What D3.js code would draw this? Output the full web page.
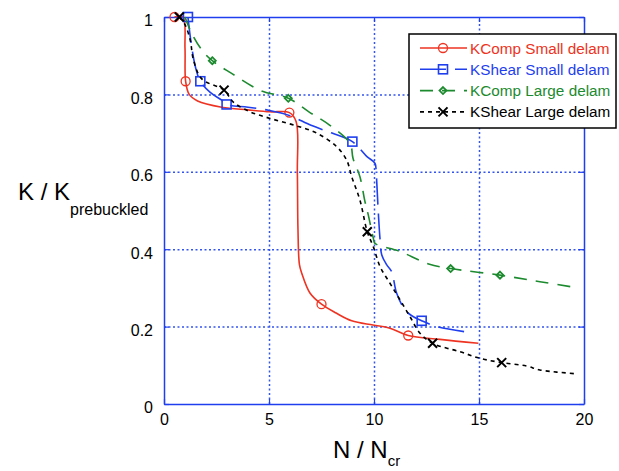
<!DOCTYPE html>
<html>
<head>
<meta charset="utf-8">
<script src="https://cdn.jsdelivr.net/npm/d3@7"></script>
<style>
  body { margin: 0; background: #fff; }
  text { font-family: "Liberation Sans", Arial, sans-serif; }
</style>
</head>
<body>
<div id="chart"></div>
<script>
// values: x = N/Ncr, y = K/Kprebuckled

var xTicks = [0, 5, 10, 15, 20];
var yTicks = [0, 0.2, 0.4, 0.6, 0.8, 1];
var yTickLabels = ["0", "0.2", "0.4", "0.6", "0.8", "1"];

var seriesNames = ["KComp Small delam", "KShear Small delam", "KComp Large delam", "KShear Large delam"];

var compSmallX = [0.5, 0.9, 1.0, 1.03, 1.2, 1.6, 2.75, 4.0, 5.05, 5.97, 6.29, 6.35, 6.38, 6.45, 6.56, 6.95, 7.5, 8.2, 8.94, 9.95, 10.76, 11.63, 13.14, 14.97];
var compSmallY = [1.0, 1.0, 0.92, 0.834, 0.8, 0.783, 0.767, 0.76, 0.755, 0.753, 0.73, 0.6, 0.45, 0.36, 0.338, 0.287, 0.258, 0.235, 0.215, 0.204, 0.196, 0.177, 0.167, 0.157];
var compSmallMarkX = [0.5, 1.03, 5.97, 7.5, 11.63];
var compSmallMarkY = [1.0, 0.834, 0.753, 0.258, 0.177];

var shearSmallX = [1.14, 1.3, 1.5, 1.73, 2.2, 2.75, 2.98, 4.0, 4.97, 6.0, 7.0, 8.0, 8.97, 9.65, 10.05, 10.1, 10.2, 10.29, 10.37, 10.6, 10.84, 11.08, 11.48, 11.8, 12.27, 13.0, 14.65];
var shearSmallY = [1.0, 0.93, 0.87, 0.834, 0.805, 0.785, 0.774, 0.767, 0.759, 0.745, 0.72, 0.7, 0.678, 0.64, 0.622, 0.6, 0.5, 0.424, 0.385, 0.36, 0.342, 0.286, 0.243, 0.228, 0.215, 0.2, 0.184];
var shearSmallMarkX = [1.14, 1.73, 2.98, 8.97, 12.27];
var shearSmallMarkY = [1.0, 0.834, 0.774, 0.678, 0.215];

var compLargeX = [1.0, 1.3, 1.8, 2.3, 3.2, 4.6, 5.92, 6.9, 7.9, 8.86, 9.0, 9.33, 9.57, 9.73, 9.97, 10.05, 11.2, 12.6, 13.65, 16.0, 17.9, 19.5];
var compLargeY = [1.0, 0.96, 0.915, 0.887, 0.855, 0.81, 0.79, 0.755, 0.72, 0.673, 0.635, 0.587, 0.523, 0.488, 0.428, 0.415, 0.395, 0.362, 0.35, 0.333, 0.316, 0.302];
var compLargeMarkX = [2.3, 5.92, 13.65, 16.0];
var compLargeMarkY = [0.887, 0.79, 0.35, 0.333];

var shearLargeX = [0.73, 1.0, 1.25, 1.4, 1.8, 2.86, 3.3, 4.1, 5.05, 6.16, 7.27, 8.22, 8.7, 8.94, 9.33, 9.68, 9.97, 10.29, 10.76, 11.24, 11.71, 12.19, 12.79, 14.1, 15.05, 16.08, 17.27, 17.9, 19.65];
var shearLargeY = [1.0, 0.98, 0.94, 0.89, 0.84, 0.811, 0.78, 0.755, 0.738, 0.721, 0.7, 0.665, 0.63, 0.587, 0.527, 0.445, 0.406, 0.355, 0.312, 0.269, 0.226, 0.183, 0.157, 0.135, 0.118, 0.107, 0.098, 0.088, 0.078];
var shearLargeMarkX = [0.73, 2.86, 9.68, 12.79, 16.08];
var shearLargeMarkY = [1.0, 0.811, 0.445, 0.157, 0.107];

var width = 619, height = 471;
var padL = 164, padR = 584, padT = 17, padB = 404;

var svg = d3.select("#chart")
  .append("svg")
  .attr("width", width)
  .attr("height", height);

var xScale = d3.scaleLinear().domain([0, 20]).range([padL, padR]);
var yScale = d3.scaleLinear().domain([0, 1]).range([padB, padT]);

var blue = "#1f3fef";

// grid
svg.append("g")
  .attr("transform", `translate(0, ${padB})`)
  .call(d3.axisBottom(xScale).tickValues(xTicks.slice(1, -1)).tickSize(-(padB - padT)).tickFormat(""))
  .call(g => g.select(".domain").remove())
  .selectAll("line")
  .attr("stroke", "#3355ee")
  .attr("stroke-width", 1.5)
  .attr("stroke-dasharray", "2,2.5");

svg.append("g")
  .attr("transform", `translate(${padL}, 0)`)
  .call(d3.axisLeft(yScale).tickValues(yTicks.slice(1, -1)).tickSize(-(padR - padL)).tickFormat(""))
  .call(g => g.select(".domain").remove())
  .selectAll("line")
  .attr("stroke", "#3355ee")
  .attr("stroke-width", 1.5)
  .attr("stroke-dasharray", "2,2.5");

// box + inward ticks
function styleAxis(g) {
  g.select(".domain").attr("stroke", blue).attr("stroke-width", 1.5);
  g.selectAll(".tick line").attr("stroke", blue).attr("stroke-width", 1.2);
  g.selectAll("text").attr("font-size", 16).attr("fill", "#000");
}

svg.append("g")
  .attr("transform", `translate(0, ${padB})`)
  .call(d3.axisBottom(xScale).tickValues(xTicks).tickSize(-5).tickSizeOuter(0).tickPadding(10))
  .call(styleAxis);

svg.append("g")
  .attr("transform", `translate(0, ${padT})`)
  .call(d3.axisTop(xScale).tickValues(xTicks).tickSize(-5).tickSizeOuter(0).tickFormat(""))
  .call(styleAxis);

svg.append("g")
  .attr("transform", `translate(${padL}, 0)`)
  .call(d3.axisLeft(yScale).tickValues(yTicks).tickSize(-5).tickSizeOuter(0).tickPadding(11)
    .tickFormat((d, i) => yTickLabels[i]))
  .call(styleAxis)
  .selectAll("text").attr("dy", "0.55em");

svg.append("g")
  .attr("transform", `translate(${padR}, 0)`)
  .call(d3.axisRight(yScale).tickValues(yTicks).tickSize(-5).tickSizeOuter(0).tickFormat(""))
  .call(styleAxis);

// axis titles
var yTitle = svg.append("text")
  .attr("x", 18)
  .attr("y", 200)
  .attr("font-size", 24)
  .attr("fill", "#000")
  .text("K / K");
yTitle.append("tspan")
  .attr("font-size", 16)
  .attr("dy", 15)
  .text("prebuckled");

var xTitle = svg.append("text")
  .attr("x", 333)
  .attr("y", 458)
  .attr("font-size", 24)
  .attr("fill", "#000")
  .text("N / N");
xTitle.append("tspan")
  .attr("font-size", 15)
  .attr("dy", 8)
  .text("cr");

// series
var series = [
  { name: seriesNames[0], x: compSmallX, y: compSmallY, mx: compSmallMarkX, my: compSmallMarkY, color: "#ee3322", dash: null, marker: "circle" },
  { name: seriesNames[1], x: shearSmallX, y: shearSmallY, mx: shearSmallMarkX, my: shearSmallMarkY, color: "#1f3fef", dash: "26,9", marker: "square" },
  { name: seriesNames[2], x: compLargeX, y: compLargeY, mx: compLargeMarkX, my: compLargeMarkY, color: "#1c8a2e", dash: "13,9", marker: "diamond" },
  { name: seriesNames[3], x: shearLargeX, y: shearLargeY, mx: shearLargeMarkX, my: shearLargeMarkY, color: "#000000", dash: "4,4", marker: "cross" }
];

var plot = svg.append("g");

function drawMarker(g, type, cx, cy, color) {
  if (type === "circle") {
    g.append("circle").attr("cx", cx).attr("cy", cy).attr("r", 4.5)
      .attr("fill", "none").attr("stroke", color).attr("stroke-width", 1.3);
  } else if (type === "square") {
    g.append("rect").attr("x", cx - 4.5).attr("y", cy - 4.5).attr("width", 9).attr("height", 9)
      .attr("fill", "none").attr("stroke", color).attr("stroke-width", 1.6);
  } else if (type === "diamond") {
    g.append("path").attr("d", `M${cx},${cy - 3.5}L${cx + 3.5},${cy}L${cx},${cy + 3.5}L${cx - 3.5},${cy}Z`)
      .attr("fill", "none").attr("stroke", color).attr("stroke-width", 1.8);
  } else {
    g.append("path").attr("d", `M${cx - 4.5},${cy - 4.5}L${cx + 4.5},${cy + 4.5}M${cx - 4.5},${cy + 4.5}L${cx + 4.5},${cy - 4.5}`)
      .attr("stroke", color).attr("stroke-width", 2);
  }
}

series.forEach(function(s) {
  var pts = s.x.map((v, i) => [v, s.y[i]]);
  plot.append("path")
    .datum(pts)
    .attr("d", d3.line().x(d => xScale(d[0])).y(d => yScale(d[1])).curve(d3.curveCatmullRom.alpha(0.5)))
    .attr("fill", "none")
    .attr("stroke", s.color)
    .attr("stroke-width", 1.6)
    .attr("stroke-dasharray", s.dash);
  s.mx.forEach(function(v, i) {
    drawMarker(plot, s.marker, xScale(v), yScale(s.my[i]), s.color);
  });
});

// legend
var legend = svg.append("g");
legend.append("rect")
  .attr("x", 409).attr("y", 34).attr("width", 207).attr("height", 94)
  .attr("fill", "#fff").attr("stroke", "#000").attr("stroke-width", 1.5);

series.forEach(function(s, i) {
  var yy = 48 + i * 21.3;
  legend.append("line")
    .attr("x1", 420).attr("x2", 467).attr("y1", yy).attr("y2", yy)
    .attr("stroke", s.color).attr("stroke-width", 1.6)
    .attr("stroke-dasharray", s.dash);
  drawMarker(legend, s.marker, 443, yy, s.color);
  legend.append("text")
    .attr("x", 470).attr("y", yy + 5.5)
    .attr("font-size", 15.3)
    .attr("fill", s.color)
    .text(s.name);
});
</script>
</body>
</html>
